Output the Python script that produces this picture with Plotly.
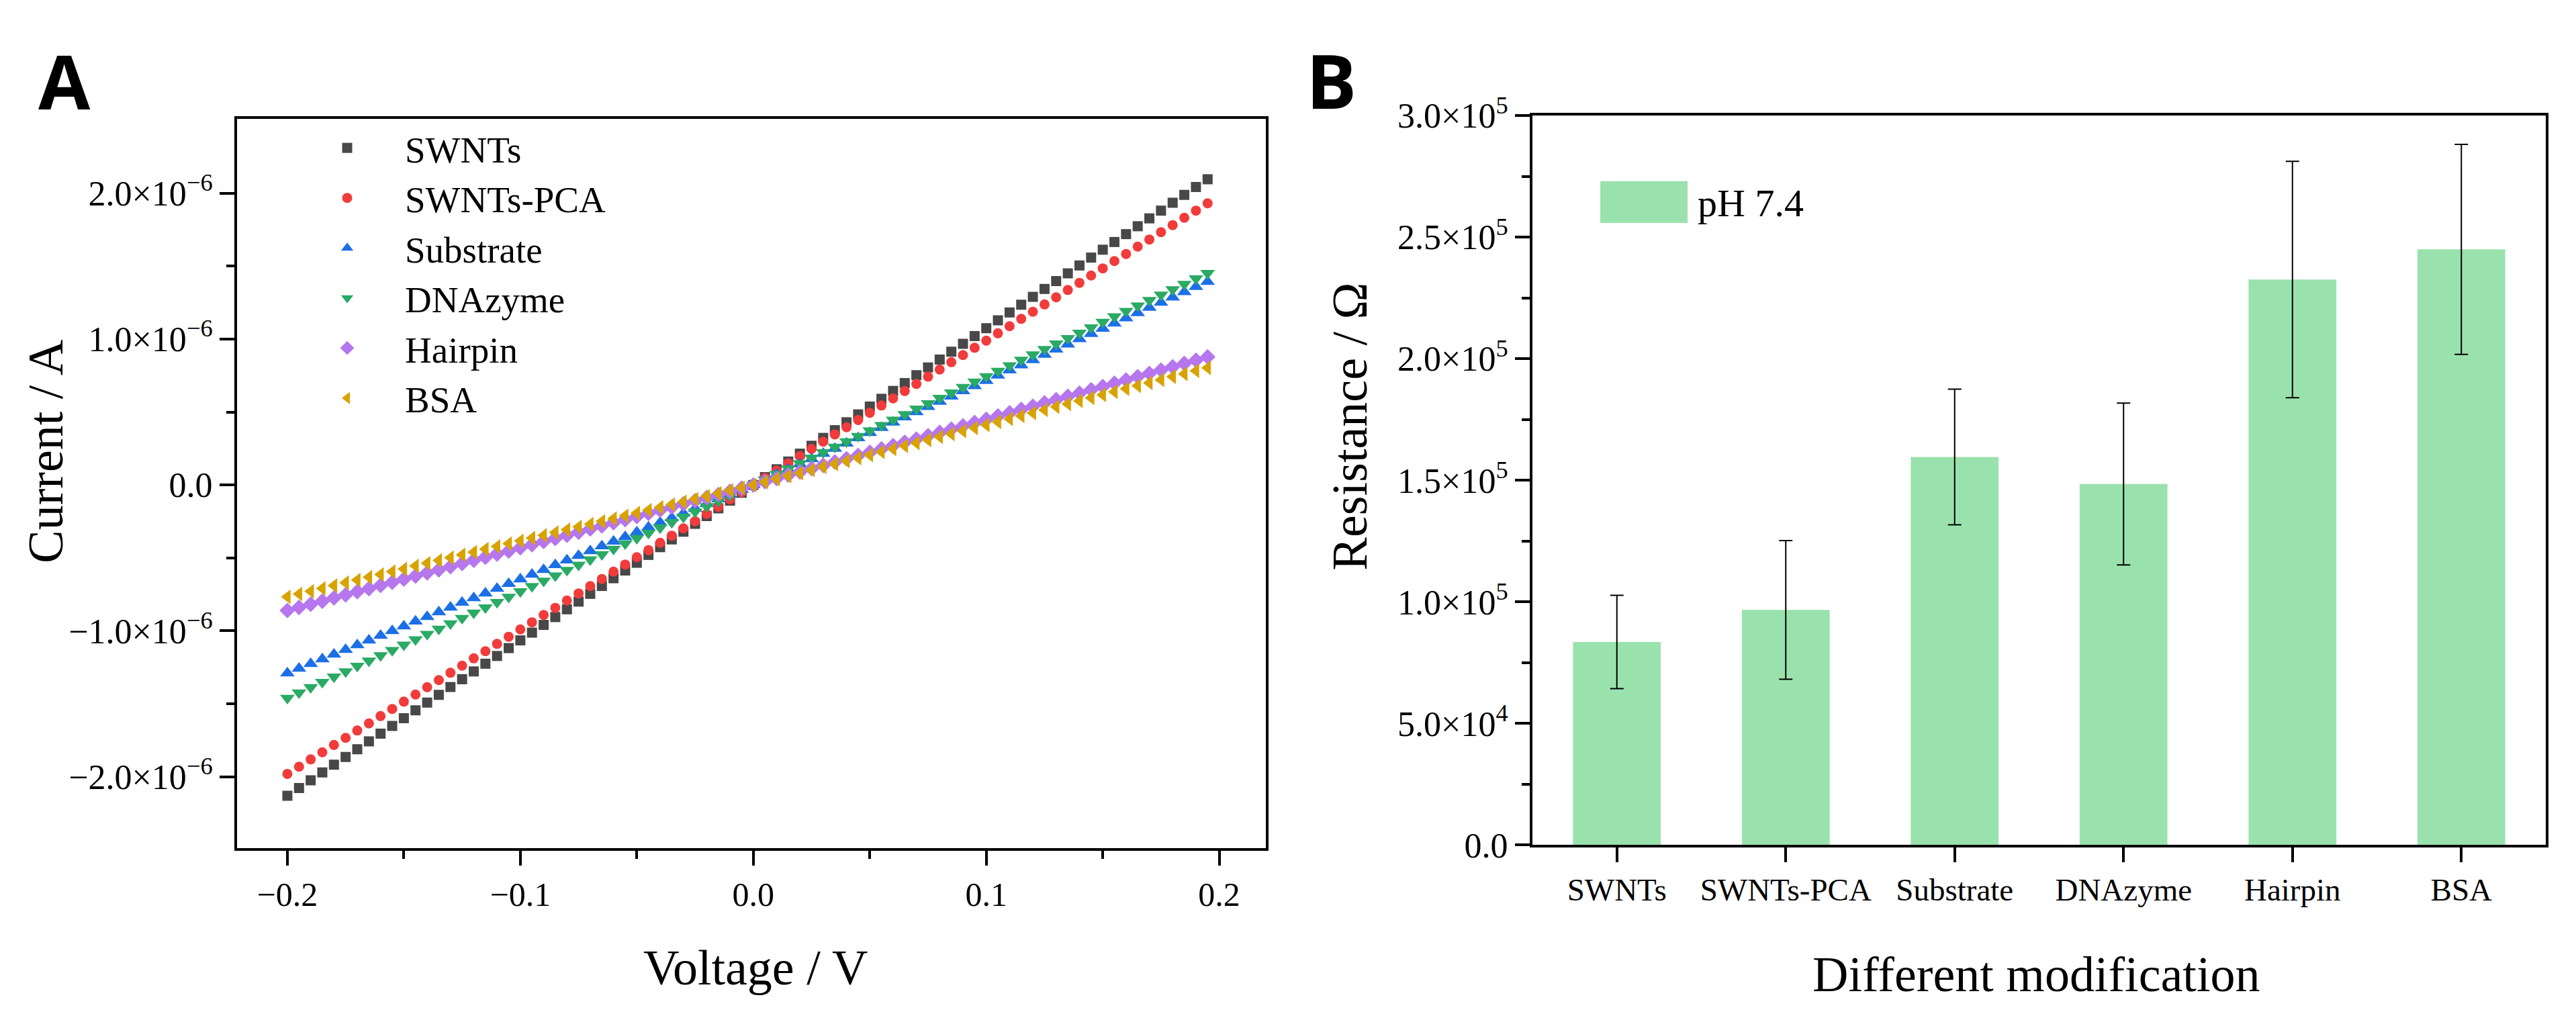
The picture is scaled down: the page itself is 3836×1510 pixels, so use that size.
import plotly.graph_objects as go

# Panel A: I-V curves (current in microamps)
voltage = [-0.200, -0.195, -0.190, -0.185, -0.180, -0.175, -0.170, -0.165, -0.160, -0.155,
           -0.150, -0.145, -0.140, -0.135, -0.130, -0.125, -0.120, -0.115, -0.110, -0.105,
           -0.100, -0.095, -0.090, -0.085, -0.080, -0.075, -0.070, -0.065, -0.060, -0.055,
           -0.050, -0.045, -0.040, -0.035, -0.030, -0.025, -0.020, -0.015, -0.010, -0.005,
           0.000, 0.005, 0.010, 0.015, 0.020, 0.025, 0.030, 0.035, 0.040, 0.045,
           0.050, 0.055, 0.060, 0.065, 0.070, 0.075, 0.080, 0.085, 0.090, 0.095,
           0.100, 0.105, 0.110, 0.115, 0.120, 0.125, 0.130, 0.135, 0.140, 0.145,
           0.150, 0.155, 0.160, 0.165, 0.170, 0.175, 0.180, 0.185, 0.190, 0.195]

i_swnts = [-2.130, -2.077, -2.024, -1.970, -1.917, -1.864, -1.811, -1.757, -1.704, -1.651,
           -1.598, -1.544, -1.491, -1.438, -1.385, -1.331, -1.278, -1.225, -1.172, -1.118,
           -1.065, -1.012, -0.959, -0.905, -0.852, -0.799, -0.746, -0.692, -0.639, -0.586,
           -0.533, -0.479, -0.426, -0.373, -0.320, -0.266, -0.213, -0.160, -0.107, -0.053,
           0.000, 0.054, 0.108, 0.161, 0.215, 0.269, 0.323, 0.376, 0.430, 0.484,
           0.538, 0.591, 0.645, 0.699, 0.753, 0.806, 0.860, 0.914, 0.968, 1.021,
           1.075, 1.129, 1.183, 1.236, 1.290, 1.344, 1.398, 1.451, 1.505, 1.559,
           1.613, 1.666, 1.720, 1.774, 1.828, 1.881, 1.935, 1.989, 2.043, 2.096]

i_swnts_pca = [-1.980, -1.931, -1.881, -1.832, -1.782, -1.733, -1.683, -1.634, -1.584, -1.535,
               -1.485, -1.436, -1.386, -1.337, -1.287, -1.238, -1.188, -1.139, -1.089, -1.040,
               -0.990, -0.941, -0.891, -0.842, -0.792, -0.743, -0.693, -0.644, -0.594, -0.545,
               -0.495, -0.446, -0.396, -0.347, -0.297, -0.248, -0.198, -0.149, -0.099, -0.050,
               0.000, 0.050, 0.099, 0.149, 0.198, 0.248, 0.297, 0.347, 0.396, 0.446,
               0.495, 0.545, 0.594, 0.644, 0.693, 0.743, 0.792, 0.842, 0.891, 0.941,
               0.990, 1.040, 1.089, 1.139, 1.188, 1.238, 1.287, 1.337, 1.386, 1.436,
               1.485, 1.535, 1.584, 1.634, 1.683, 1.733, 1.782, 1.832, 1.881, 1.931]

i_substrate = [-1.290, -1.258, -1.226, -1.193, -1.161, -1.129, -1.097, -1.064, -1.032, -1.000,
               -0.968, -0.935, -0.903, -0.871, -0.839, -0.806, -0.774, -0.742, -0.710, -0.677,
               -0.645, -0.613, -0.581, -0.548, -0.516, -0.484, -0.452, -0.419, -0.387, -0.355,
               -0.323, -0.290, -0.258, -0.226, -0.194, -0.161, -0.129, -0.097, -0.065, -0.032,
               0.000, 0.036, 0.072, 0.107, 0.143, 0.179, 0.215, 0.250, 0.286, 0.322,
               0.358, 0.393, 0.429, 0.465, 0.501, 0.536, 0.572, 0.608, 0.644, 0.679,
               0.715, 0.751, 0.787, 0.822, 0.858, 0.894, 0.930, 0.965, 1.001, 1.037,
               1.073, 1.108, 1.144, 1.180, 1.216, 1.251, 1.287, 1.323, 1.359, 1.394]

i_dnazyme = [-1.460, -1.424, -1.387, -1.351, -1.314, -1.278, -1.241, -1.205, -1.168, -1.132,
             -1.095, -1.059, -1.022, -0.986, -0.949, -0.913, -0.876, -0.840, -0.803, -0.767,
             -0.730, -0.694, -0.657, -0.621, -0.584, -0.548, -0.511, -0.475, -0.438, -0.402,
             -0.365, -0.329, -0.292, -0.256, -0.219, -0.183, -0.146, -0.110, -0.073, -0.037,
             0.000, 0.037, 0.075, 0.112, 0.149, 0.186, 0.224, 0.261, 0.298, 0.335,
             0.373, 0.410, 0.447, 0.484, 0.522, 0.559, 0.596, 0.633, 0.671, 0.708,
             0.745, 0.782, 0.820, 0.857, 0.894, 0.931, 0.969, 1.006, 1.043, 1.080,
             1.118, 1.155, 1.192, 1.229, 1.267, 1.304, 1.341, 1.378, 1.416, 1.453]

i_hairpin = [-0.860, -0.839, -0.817, -0.796, -0.774, -0.753, -0.731, -0.710, -0.688, -0.667,
             -0.645, -0.624, -0.602, -0.581, -0.559, -0.538, -0.516, -0.495, -0.473, -0.452,
             -0.430, -0.409, -0.387, -0.366, -0.344, -0.323, -0.301, -0.280, -0.258, -0.237,
             -0.215, -0.194, -0.172, -0.151, -0.129, -0.108, -0.086, -0.065, -0.043, -0.022,
             0.000, 0.023, 0.045, 0.068, 0.090, 0.113, 0.135, 0.158, 0.180, 0.203,
             0.225, 0.248, 0.270, 0.293, 0.315, 0.338, 0.360, 0.383, 0.405, 0.428,
             0.450, 0.473, 0.495, 0.518, 0.540, 0.563, 0.585, 0.608, 0.630, 0.653,
             0.675, 0.698, 0.720, 0.743, 0.765, 0.788, 0.810, 0.833, 0.855, 0.878]

i_bsa = [-0.766, -0.747, -0.728, -0.709, -0.689, -0.670, -0.651, -0.632, -0.613, -0.594,
         -0.575, -0.555, -0.536, -0.517, -0.498, -0.479, -0.460, -0.440, -0.421, -0.402,
         -0.383, -0.364, -0.345, -0.326, -0.306, -0.287, -0.268, -0.249, -0.230, -0.211,
         -0.192, -0.172, -0.153, -0.134, -0.115, -0.096, -0.077, -0.057, -0.038, -0.019,
         0.000, 0.021, 0.041, 0.062, 0.082, 0.103, 0.124, 0.144, 0.165, 0.185,
         0.206, 0.227, 0.247, 0.268, 0.288, 0.309, 0.330, 0.350, 0.371, 0.391,
         0.412, 0.433, 0.453, 0.474, 0.494, 0.515, 0.536, 0.556, 0.577, 0.597,
         0.618, 0.639, 0.659, 0.680, 0.700, 0.721, 0.742, 0.762, 0.783, 0.803]

series_names = ['SWNTs', 'SWNTs-PCA', 'Substrate', 'DNAzyme', 'Hairpin', 'BSA']
series_values = [i_swnts, i_swnts_pca, i_substrate, i_dnazyme, i_hairpin, i_bsa]

volt_ticks = [-0.2, -0.1, 0.0, 0.1, 0.2]
volt_ticktext = ['\u22120.2', '\u22120.1', '0.0', '0.1', '0.2']
volt_minor = [-0.15, -0.05, 0.05, 0.15]
curr_ticks = [-2e-6, -1e-6, 0.0, 1e-6, 2e-6]
curr_ticktext = ['\u22122.0\u00d710<sup>\u22126</sup>', '\u22121.0\u00d710<sup>\u22126</sup>', '0.0',
                 '1.0\u00d710<sup>\u22126</sup>', '2.0\u00d710<sup>\u22126</sup>']
curr_minor = [-1.5e-6, -0.5e-6, 0.5e-6, 1.5e-6]

# Panel B: resistance after each modification step
modifications = ['SWNTs', 'SWNTs-PCA', 'Substrate', 'DNAzyme', 'Hairpin', 'BSA']
resistance = [83500, 96700, 159600, 148500, 232600, 245000]
resistance_err = [19200, 28500, 27900, 33300, 48600, 43200]

res_ticks = [0, 5e4, 1e5, 1.5e5, 2e5, 2.5e5, 3e5]
res_ticktext = ['0.0', '5.0\u00d710<sup>4</sup>', '1.0\u00d710<sup>5</sup>', '1.5\u00d710<sup>5</sup>',
                '2.0\u00d710<sup>5</sup>', '2.5\u00d710<sup>5</sup>', '3.0\u00d710<sup>5</sup>']
res_minor = [2.5e4, 7.5e4, 1.25e5, 1.75e5, 2.25e5, 2.75e5]

# styling
W, H = 3836, 1510
serif = 'Liberation Serif'
colors = ['#484848', '#f23b3b', '#1c6fe6', '#2aaa64', '#b676ee', '#d8a300']
symbols = ['square', 'circle', 'triangle-up', 'triangle-down', 'diamond', 'triangle-left']
sizes = [15, 15, 19, 19, 18, 19]
bar_color = '#9ae2ad'

fig = go.Figure()

for name, vals, c, s, sz in zip(series_names, series_values, colors, symbols, sizes):
    fig.add_trace(go.Scatter(
        x=voltage, y=[v * 1e-6 for v in vals], name=name, mode='markers',
        marker=dict(symbol=s, color=c, size=sz, line=dict(width=0)),
        xaxis='x', yaxis='y'))

fig.add_trace(go.Bar(
    x=modifications, y=resistance, name='pH 7.4', width=0.52,
    marker=dict(color=bar_color, line=dict(width=0)),
    error_y=dict(type='data', array=resistance_err, color='black', thickness=2, width=10),
    xaxis='x2', yaxis='y2', showlegend=False))

axis_common = dict(showline=True, linecolor='black', linewidth=4, mirror=True,
                   ticks='outside', ticklen=22, tickwidth=4, tickcolor='black',
                   showgrid=False, zeroline=False)


def px_x(p):
    return p / W


def px_y(p):
    return 1 - p / H


fig.update_layout(
    width=W, height=H, autosize=False,
    margin=dict(l=0, r=0, t=0, b=0),
    paper_bgcolor='white', plot_bgcolor='white',
    font=dict(family=serif, color='black'),
    xaxis=dict(axis_common, domain=[px_x(345), px_x(1877)], range=[-0.2216, 0.2200],
               tickmode='array', tickvals=volt_ticks, ticktext=volt_ticktext,
               tickfont=dict(family=serif, size=50),
               minor=dict(tickvals=volt_minor, ticks='outside', ticklen=12, tickwidth=4, tickcolor='black'),
               anchor='y'),
    yaxis=dict(axis_common, domain=[px_y(1274), px_y(139)], range=[-2.49e-6, 2.51e-6],
               tickmode='array', tickvals=curr_ticks, ticktext=curr_ticktext,
               tickfont=dict(family=serif, size=52),
               minor=dict(tickvals=curr_minor, ticks='outside', ticklen=12, tickwidth=4, tickcolor='black'),
               anchor='x'),
    xaxis2=dict(axis_common, domain=[px_x(2274), px_x(3783)], range=[-0.5, 5.5],
                type='category', tickfont=dict(family=serif, size=47), anchor='y2'),
    yaxis2=dict(axis_common, domain=[px_y(1269), px_y(134)], range=[0, 3e5],
                tickmode='array', tickvals=res_ticks, ticktext=res_ticktext,
                tickfont=dict(family=serif, size=52),
                minor=dict(tickvals=res_minor, ticks='outside', ticklen=12, tickwidth=4, tickcolor='black'),
                anchor='x2'),
    legend=dict(x=px_x(423), y=px_y(140), xanchor='left', yanchor='top',
                font=dict(family=serif, size=55, color='black'),
                bgcolor='rgba(0,0,0,0)', borderwidth=0, itemwidth=162,
                tracegroupgap=0, itemsizing='trace'),
)

# legend box of panel B drawn by hand (big swatch like the original)
fig.add_shape(type='rect', xref='paper', yref='paper',
              x0=px_x(2375), x1=px_x(2505), y0=px_y(301), y1=px_y(236),
              fillcolor=bar_color, line=dict(width=0))

annotations = [
    dict(text='pH 7.4', x=px_x(2518), y=px_y(270), xanchor='left', yanchor='middle',
         font=dict(family=serif, size=58)),
    dict(text='Current / A', x=px_x(60), y=px_y(657), textangle=-90,
         xanchor='center', yanchor='middle', font=dict(family=serif, size=74)),
    dict(text='Voltage / V', x=px_x(1117), y=px_y(1460), xanchor='center', yanchor='middle',
         font=dict(family=serif, size=74)),
    dict(text='Resistance / \u03a9', x=px_x(2002), y=px_y(618), textangle=-90,
         xanchor='center', yanchor='middle', font=dict(family=serif, size=74)),
    dict(text='Different modification', x=px_x(3024), y=px_y(1470), xanchor='center', yanchor='middle',
         font=dict(family=serif, size=74)),
    dict(text='<b>A</b>', x=px_x(88), y=px_y(79), xanchor='center', yanchor='middle',
         font=dict(family='Open Sans', size=112)),
    dict(text='<b>B</b>', x=px_x(1974), y=px_y(78), xanchor='center', yanchor='middle',
         font=dict(family='Open Sans', size=112)),
]
for a in annotations:
    fig.add_annotation(a, xref='paper', yref='paper', showarrow=False)

fig.write_html("out.html")
